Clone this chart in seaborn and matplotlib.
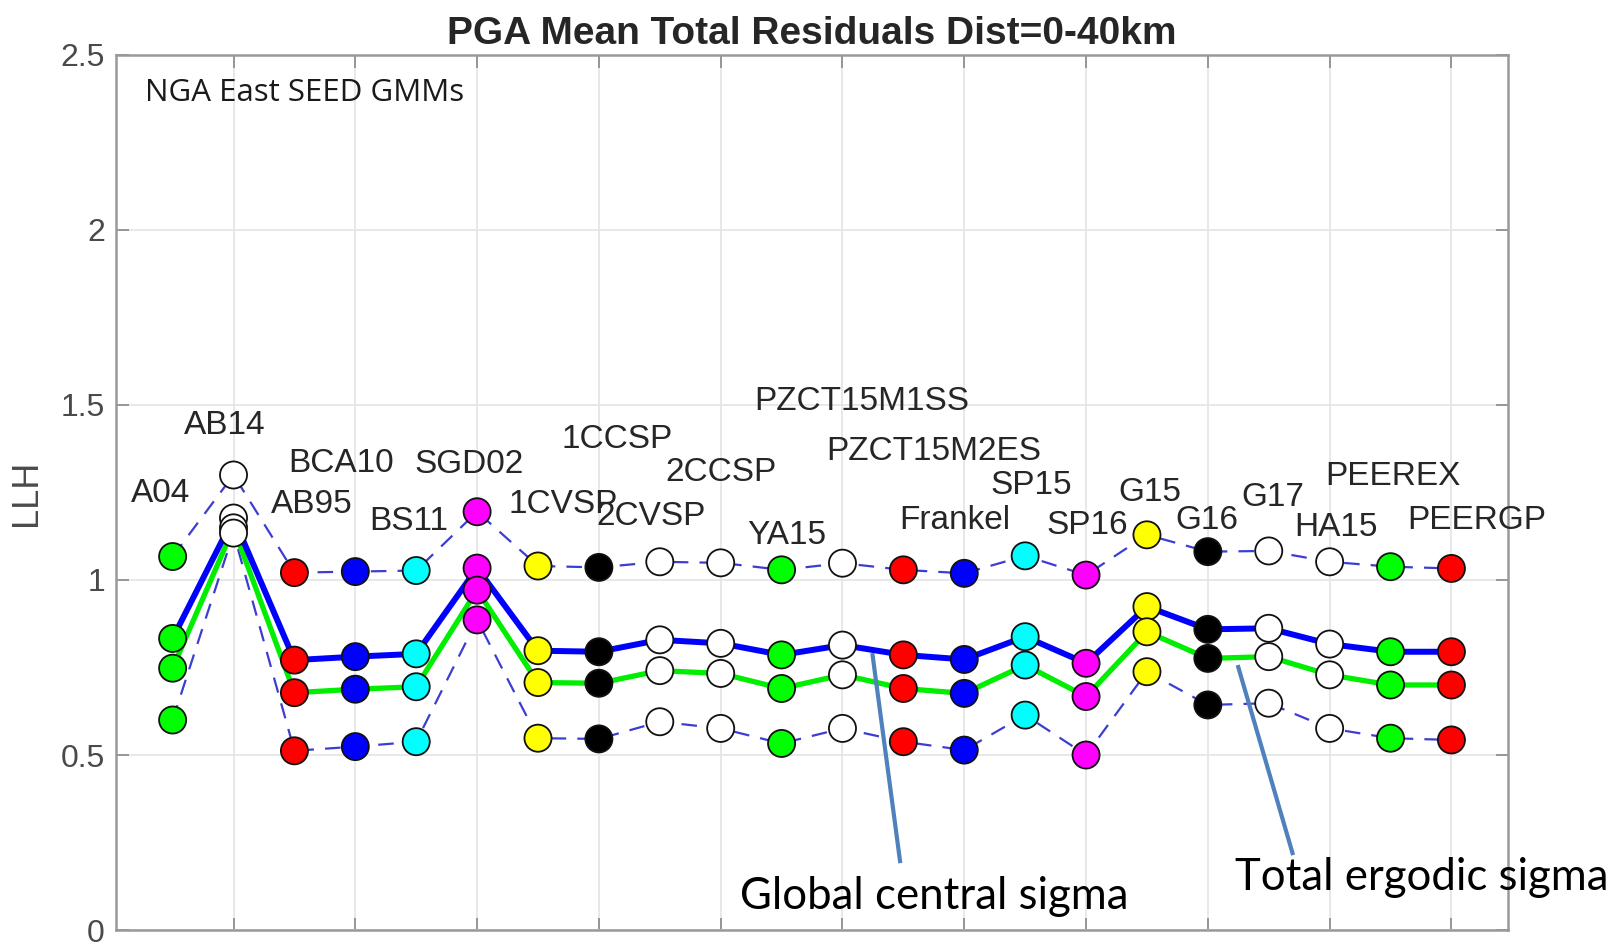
import numpy as np
import pandas as pd
import matplotlib
matplotlib.use("Agg")
import matplotlib.pyplot as plt
import seaborn as sns

# ---------------- data ----------------
models = ["A04", "AB14", "AB95", "BCA10", "BS11", "SGD02", "1CVSP", "1CCSP",
          "2CVSP", "2CCSP", "YA15", "PZCT15M1SS", "PZCT15M2ES", "Frankel",
          "SP15", "SP16", "G15", "G16", "G17", "HA15", "PEEREX", "PEERGP"]
model_colors = ["#00ff00", "#ffffff", "#ff0000", "#0000ff", "#00ffff", "#ff00ff",
                "#ffff00", "#000000", "#ffffff", "#ffffff", "#00ff00", "#ffffff",
                "#ff0000", "#0000ff", "#00ffff", "#ff00ff", "#ffff00", "#000000",
                "#ffffff", "#ffffff", "#00ff00", "#ff0000"]
upper_llh = [1.067, 1.300, 1.021, 1.024, 1.027, 1.195, 1.040, 1.036,
             1.052, 1.049, 1.029, 1.048, 1.029, 1.019, 1.069, 1.014,
             1.129, 1.081, 1.083, 1.052, 1.038, 1.033]
central_llh = [0.833, 1.177, 0.771, 0.781, 0.789, 1.034, 0.798, 0.795,
               0.829, 0.819, 0.786, 0.814, 0.786, 0.773, 0.838, 0.762,
               0.924, 0.859, 0.862, 0.817, 0.795, 0.795]
ergodic_llh = [0.748, 1.149, 0.678, 0.688, 0.695, 0.971, 0.707, 0.705,
               0.741, 0.733, 0.690, 0.729, 0.690, 0.676, 0.757, 0.667,
               0.852, 0.776, 0.781, 0.729, 0.700, 0.700]
lower_llh = [0.600, 1.134, 0.512, 0.524, 0.538, 0.886, 0.548, 0.546,
             0.595, 0.576, 0.533, 0.576, 0.538, 0.514, 0.614, 0.500,
             0.738, 0.643, 0.648, 0.576, 0.548, 0.543]
y_ticks = [0, 0.5, 1, 1.5, 2, 2.5]
y_tick_labels = ["0", "0.5", "1", "1.5", "2", "2.5"]

# label placement (layout only)
label_x = [0.80, 1.86, 3.29, 3.77, 4.88, 5.87, 7.41, 8.30, 8.86, 10.01, 11.09,
           12.32, 13.50, 13.85, 15.10, 16.02, 17.04, 17.99, 19.07, 20.10, 21.04, 22.42]
label_y = [1.246, 1.44, 1.217, 1.334, 1.166, 1.329, 1.217, 1.40, 1.18, 1.306, 1.126,
           1.509, 1.368, 1.169, 1.27, 1.157, 1.25, 1.169, 1.237, 1.149, 1.297, 1.169]

xpos = np.arange(1, len(models) + 1)
palette = dict(zip(models, model_colors))

series = {"upper": upper_llh, "central": central_llh,
          "ergodic": ergodic_llh, "lower": lower_llh}
df = pd.concat([pd.DataFrame({"x": xpos, "model": models, "llh": v, "series": k})
                for k, v in series.items()], ignore_index=True)

# ---------------- figure ----------------
sns.set_theme(style="white")
plt.rcParams["font.family"] = ["Liberation Sans", "DejaVu Sans"]
fig = plt.figure(figsize=(16.2, 9.46), dpi=100)
ax = fig.add_axes([0.0716, 0.0169, 0.8593, 0.925])

dash_color = "#3d3dd2"
for name in ["upper", "lower"]:
    sub = df[df.series == name]
    sns.lineplot(data=sub, x="x", y="llh", ax=ax, color=dash_color, lw=1.6,
                 linestyle=(0, (7, 5)), sort=False, estimator=None, zorder=2)
sns.lineplot(data=df[df.series == "central"], x="x", y="llh", ax=ax, color="#0000ff",
             lw=4.3, sort=False, estimator=None, zorder=2.2)
sns.lineplot(data=df[df.series == "ergodic"], x="x", y="llh", ax=ax, color="#00ee00",
             lw=3.8, sort=False, estimator=None, zorder=2.1)

for name in ["upper", "central", "ergodic", "lower"]:
    sns.scatterplot(data=df[df.series == name], x="x", y="llh", hue="model",
                    palette=palette, s=380, edgecolor="#111111", linewidth=1.3,
                    legend=False, ax=ax, zorder=3)

for lx, ly, m in zip(label_x, label_y, models):
    ax.text(lx, ly, m, ha="center", va="center", fontsize=24, color="#262626")

ax.text(0.55, 2.39, "NGA East SEED GMMs", ha="left", va="center",
        fontsize=22.5, family="Open Sans", color="#1a1a1a")

# annotations
ann_color = "#4f81bd"
ax.plot([12.49, 12.95], [0.791, 0.191], color=ann_color, lw=3, zorder=4,
        solid_capstyle="butt")
ax.plot([18.49, 19.40], [0.757, 0.214], color=ann_color, lw=3, zorder=4,
        solid_capstyle="butt")
ax.text(13.5, 0.097, "Global central sigma", ha="center", va="center",
        fontsize=31.5, family="Lato", color="black", clip_on=False)
ax.text(21.52, 0.149, "Total ergodic sigma", ha="center", va="center",
        fontsize=31.5, family="Lato", color="black", clip_on=False)

# axes styling
ax.set_xlim(0.07, 22.93)
ax.set_ylim(0, 2.5)
ax.set_xticks(np.arange(2, 23, 2))
ax.set_xticklabels([])
ax.set_yticks(y_ticks)
ax.set_yticklabels(y_tick_labels)
ax.tick_params(axis="both", direction="in", length=9, width=1.2, color="#888888",
               top=True, right=True, bottom=True, left=True,
               labelsize=23, labelcolor="#4a4a4a", pad=8)
ax.grid(True, color="#e6e6e6", lw=1.3)
ax.set_axisbelow(True)
for sp in ax.spines.values():
    sp.set_color("#999999")
    sp.set_linewidth(1.8)
ax.set_xlabel("")
ax.set_ylabel("LLH", fontsize=26, color="#4a4a4a", labelpad=12)
ax.set_title("PGA Mean Total Residuals Dist=0-40km", fontsize=28, fontweight="bold",
             color="#262626", pad=8)

fig.savefig("out.png", dpi=100)
